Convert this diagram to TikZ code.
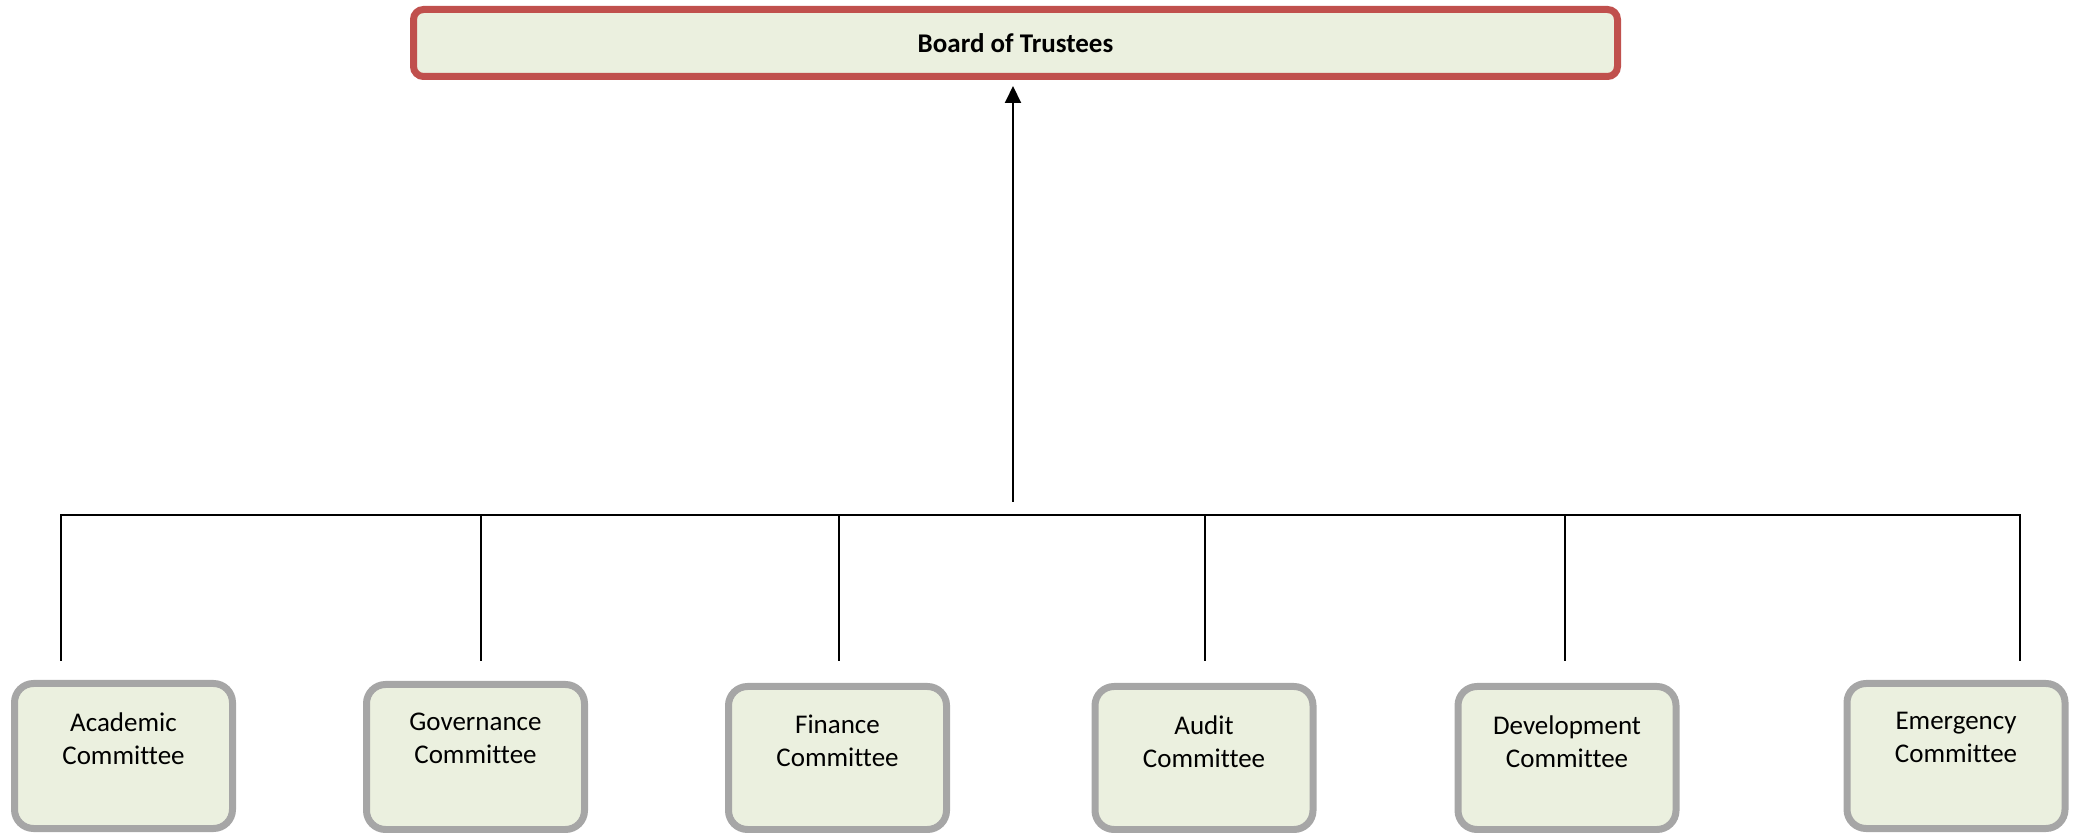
\documentclass[tikz,border=0pt]{standalone}
\usepackage{fontspec}
\setmainfont{Carlito}[Ligatures=NoCommon]
\usetikzlibrary{arrows.meta}
\definecolor{boxfill}{HTML}{EBF0DF}
\definecolor{boardred}{HTML}{C0504D}
\definecolor{boxgray}{HTML}{A6A6A6}
\tikzset{
  board/.style={draw=boardred, fill=boxfill, line width=3.5pt, rounded corners=5pt,
    minimum width=602pt, minimum height=33.5pt, inner sep=0pt,
    font=\fontsize{13.5}{16}\selectfont\bfseries},
  cbox/.style={draw=boxgray, fill=boxfill, line width=3.5pt, rounded corners=9.5pt,
    minimum width=109pt, inner sep=0pt},
  ctext/.style={anchor=north, inner sep=0pt, align=center,
    font=\fontsize{13.5}{16.5}\selectfont},
  conn/.style={line width=1pt, black},
  drop/.style={line width=0.8pt, black},
}
\begin{document}
\begin{tikzpicture}[x=0.5pt, y=-0.5pt]
\useasboundingbox (0,0) rectangle (2078,833);
% top node
\node[board] (board) at (1015.5,43) {Board of Trustees};
% committee boxes
\node[cbox, minimum height=72.5pt] (acad) at (123.5,756) {};
\node[cbox, minimum height=72.5pt] (gov)  at (475.5,757) {};
\node[cbox, minimum height=71.5pt] (fin)  at (837.5,758) {};
\node[cbox, minimum height=71.5pt] (aud)  at (1204,758) {};
\node[cbox, minimum height=71.5pt] (dev)  at (1567,758) {};
\node[cbox, minimum height=72.5pt] (emg)  at (1956,756) {};
% texts
\node[ctext] (acadT) at ([yshift=-16pt]acad.north) {Academic\\Committee};
\node[ctext] (govT)  at ([yshift=-16pt]gov.north) {Governance\\Committee};
\node[ctext] (finT)  at ([yshift=-16pt]fin.north) {Finance\\Committee};
\node[ctext] (audT)  at ([yshift=-16pt]aud.north) {Audit\\Committee};
\node[ctext] (devT)  at ([yshift=-16pt]dev.north) {Development\\Committee};
\node[ctext] (emgT)  at ([yshift=-16pt]emg.north) {Emergency\\Committee};
% bus coordinates
\coordinate (b1) at (61,515.5);
\coordinate (b2) at (481,515.5);
\coordinate (b3) at (839,515.5);
\coordinate (b4) at (1205,515.5);
\coordinate (b5) at (1565,515.5);
\coordinate (b6) at (2020,515.5);
\coordinate (d1) at (61,661);
\coordinate (d2) at (481,661);
\coordinate (d3) at (839,661);
\coordinate (d4) at (1205,661);
\coordinate (d5) at (1565,661);
\coordinate (d6) at (2020,661);
\coordinate (hub) at (1013,502);
% connectors
\draw[conn] (d1) -- (b1) -- (b6) -- (d6);
\draw[drop] (b2) -- (d2);
\draw[drop] (b3) -- (d3);
\draw[drop] (b4) -- (d4);
\draw[drop] (b5) -- (d5);
\draw[conn, -{Triangle[width=8pt,length=8.5pt]}, shorten >=3pt] (hub) -- (hub |- board.south);
\end{tikzpicture}
\end{document}
